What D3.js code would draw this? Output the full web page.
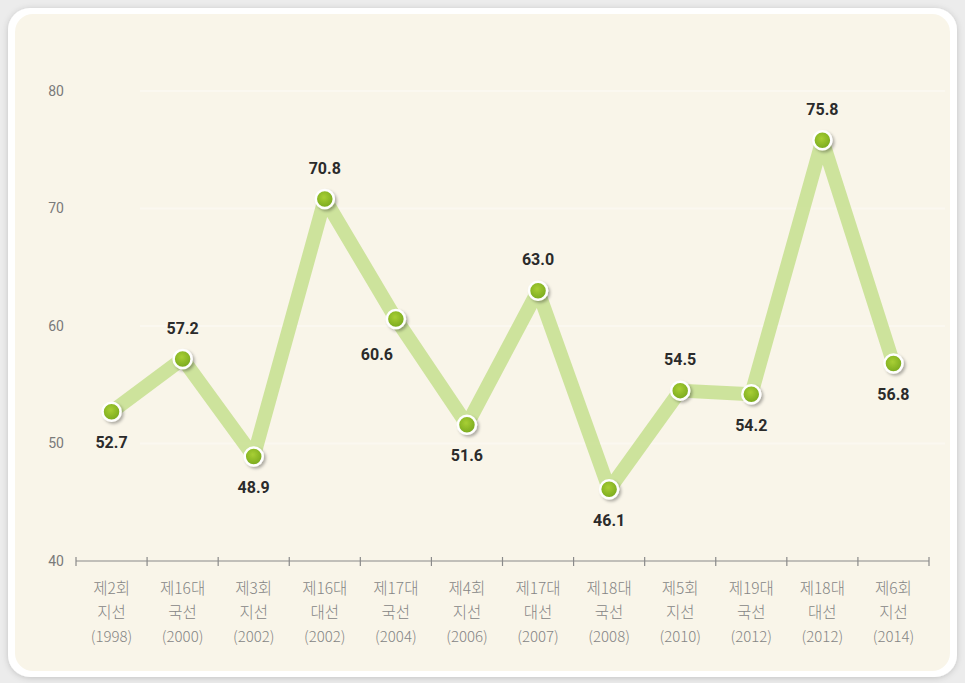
<!DOCTYPE html>
<html>
<head>
<meta charset="utf-8">
<script src="https://cdn.jsdelivr.net/npm/d3@7"></script>
<style>
  body { margin: 0; background: #ececec; }
  svg { display: block; }
</style>
</head>
<body>
<svg id="chart" width="965" height="683"></svg>
<script>
"use strict";

// election names (two lines) and years
const elections = ["제2회 지선", "제16대 국선", "제3회 지선", "제16대 대선", "제17대 국선", "제4회 지선",
                   "제17대 대선", "제18대 국선", "제5회 지선", "제19대 국선", "제18대 대선", "제6회 지선"];
const years = ["1998", "2000", "2002", "2002", "2004", "2006", "2007", "2008", "2010", "2012", "2012", "2014"];
// turnout (%)
const turnout = [52.7, 57.2, 48.9, 70.8, 60.6, 51.6, 63.0, 46.1, 54.5, 54.2, 75.8, 56.8];
// label placement: 1 above, -1 below
const labelSide = [-1, 1, -1, 1, -1, -1, 1, -1, 1, -1, 1, -1];
const yTicks = [40, 50, 60, 70, 80];

const svg = d3.select("#chart");

// panel
let defs = svg.append("defs");
let shadow = defs.append("filter").attr("id", "panelShadow")
  .attr("x", "-5%").attr("y", "-5%").attr("width", "110%").attr("height", "110%");
shadow.append("feDropShadow").attr("dx", 0).attr("dy", 1).attr("stdDeviation", 3)
  .attr("flood-color", "#000").attr("flood-opacity", 0.18);

let dotShadow = defs.append("filter").attr("id", "dotShadow")
  .attr("x", "-50%").attr("y", "-50%").attr("width", "200%").attr("height", "200%");
dotShadow.append("feDropShadow").attr("dx", 2).attr("dy", 2).attr("stdDeviation", 1.5)
  .attr("flood-color", "#000").attr("flood-opacity", 0.3);

let grad = defs.append("radialGradient").attr("id", "dotFill")
  .attr("cx", "45%").attr("cy", "40%").attr("r", "60%");
grad.append("stop").attr("offset", "0%").attr("stop-color", "#a8cf34");
grad.append("stop").attr("offset", "100%").attr("stop-color", "#78a81e");

svg.append("rect")
  .attr("x", 8).attr("y", 8).attr("width", 949).attr("height", 669)
  .attr("rx", 22).attr("fill", "#ffffff").attr("filter", "url(#panelShadow)");
svg.append("rect")
  .attr("x", 15).attr("y", 14).attr("width", 935).attr("height", 657)
  .attr("rx", 18).attr("fill", "#f9f5e9");

// scales
const x = d3.scaleBand().domain(d3.range(turnout.length)).range([76, 929]);
const y = d3.scaleLinear().domain([40, 80]).range([561, 91]);

// faint gridlines
svg.append("g").selectAll("line").data(yTicks.slice(1)).join("line")
  .attr("x1", 140).attr("x2", 945)
  .attr("y1", d => y(d)).attr("y2", d => y(d))
  .attr("stroke", "#ffffff").attr("stroke-width", 2).attr("opacity", 0.35);

// y labels
svg.append("g").selectAll("text").data(yTicks).join("text")
  .attr("x", 64).attr("y", d => y(d)).attr("dy", "0.35em")
  .attr("text-anchor", "end")
  .attr("font-family", "Roboto, 'Noto Sans', sans-serif").attr("font-size", 14)
  .attr("fill", "#7a7a7a")
  .text(d => d);

// x axis
const xAxis = svg.append("g").attr("transform", "translate(0,561)");
xAxis.append("line").attr("x1", x.range()[0]).attr("x2", x.range()[1])
  .attr("stroke", "#8a8a8a").attr("stroke-width", 1.2);
const tickPos = d3.range(turnout.length + 1).map(i => x.range()[0] + i * x.step());
xAxis.selectAll("line.tick").data(tickPos).join("line").attr("class", "tick")
  .attr("x1", d => d).attr("x2", d => d).attr("y1", -4).attr("y2", 5)
  .attr("stroke", "#8a8a8a").attr("stroke-width", 1.2);

const catLabels = svg.append("g")
  .attr("font-family", "'Noto Sans CJK KR', sans-serif")
  .attr("font-size", 15.5).attr("fill", "#858585").attr("text-anchor", "middle");
turnout.forEach(function(v, i) {
  let lines = elections[i].split(" ").concat(["(" + years[i] + ")"]);
  let t = catLabels.append("text").attr("x", x(i) + x.bandwidth() / 2).attr("y", 594);
  lines.forEach(function(s, k) {
    t.append("tspan").attr("x", x(i) + x.bandwidth() / 2).attr("dy", k ? 24 : 0)
      .attr("font-weight", 300).attr("font-size", k === 2 ? 15 : 15.5).text(s);
  });
});

// line
const cx = i => x(i) + x.bandwidth() / 2;
const line = d3.line().x((d, i) => cx(i)).y(d => y(d));
svg.append("path")
  .attr("d", line(turnout))
  .attr("fill", "none")
  .attr("stroke", "#c6df8e").attr("stroke-opacity", 0.85)
  .attr("stroke-width", 14)
  .attr("stroke-linejoin", "round");

// dots
svg.append("g").selectAll("circle").data(turnout).join("circle")
  .attr("cx", (d, i) => cx(i)).attr("cy", d => y(d)).attr("r", 9)
  .attr("fill", "url(#dotFill)")
  .attr("stroke", "#ffffff").attr("stroke-width", 2.5)
  .attr("filter", "url(#dotShadow)");

// value labels
svg.append("g").selectAll("text").data(turnout).join("text")
  .attr("x", (d, i) => cx(i) + (i === 4 ? -19 : 0))
  .attr("y", (d, i) => y(d) - labelSide[i] * 31 + (i === 4 ? 4 : 0))
  .attr("dy", "0.35em")
  .attr("text-anchor", "middle")
  .attr("font-family", "Roboto, 'DejaVu Sans', sans-serif")
  .attr("font-weight", 700).attr("font-size", 16)
  .attr("fill", "#2b2b2b")
  .text(d => d.toFixed(1));
</script>
</body>
</html>
